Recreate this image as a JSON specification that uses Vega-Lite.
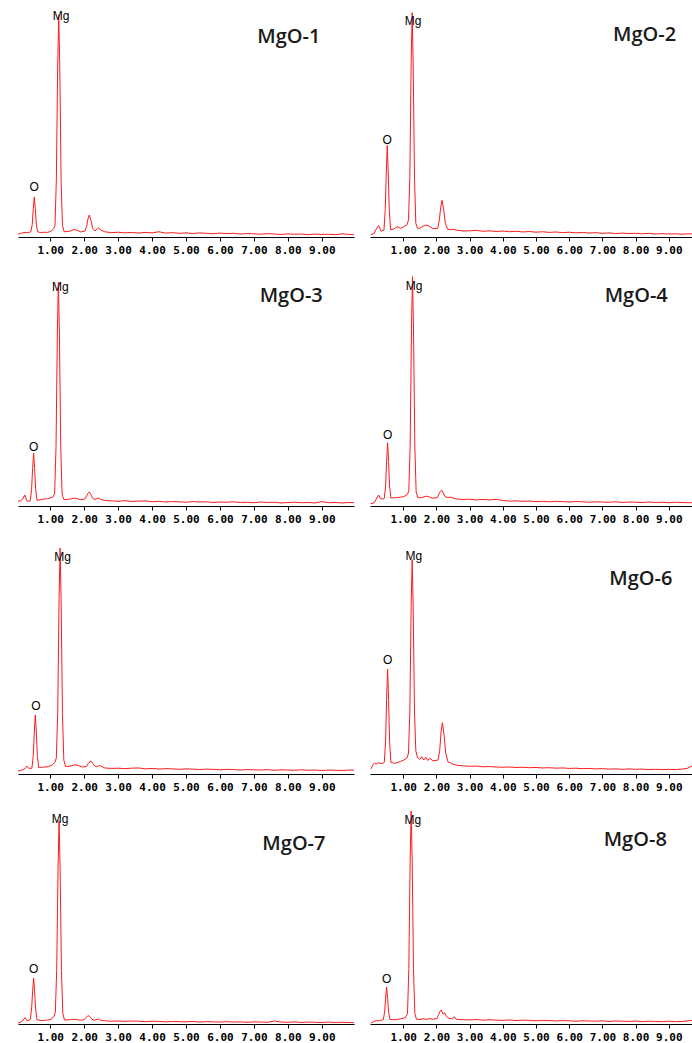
{
"$schema":"https://vega.github.io/schema/vega-lite/v6.json",
"background":"white",
"padding":{"left":16,"top":8,"right":0,"bottom":0},
"config":{"view":{"stroke":null}},
"spacing":17,
"datasets":{
"spec":[
{"p":1,"x":0.05,"y":1.2},{"p":1,"x":0.12,"y":1.6},{"p":1,"x":0.19,"y":1.8},{"p":1,"x":0.26,"y":2.0},{"p":1,"x":0.33,"y":1.9},{"p":1,"x":0.39,"y":2.1},
{"p":1,"x":0.43,"y":2.3},{"p":1,"x":0.47,"y":5.5},{"p":1,"x":0.50,"y":12.5},{"p":1,"x":0.53,"y":17.5},{"p":1,"x":0.56,"y":12.5},{"p":1,"x":0.59,"y":5.5},{"p":1,"x":0.63,"y":2.3},
{"p":1,"x":0.72,"y":1.9},{"p":1,"x":0.82,"y":2.1},{"p":1,"x":0.92,"y":2.0},{"p":1,"x":1.02,"y":2.5},
{"p":1,"x":1.10,"y":3.6},{"p":1,"x":1.14,"y":5.0},{"p":1,"x":1.18,"y":25},{"p":1,"x":1.22,"y":75},{"p":1,"x":1.25,"y":97},{"p":1,"x":1.28,"y":75},{"p":1,"x":1.32,"y":25},{"p":1,"x":1.36,"y":5},{"p":1,"x":1.41,"y":2.3},
{"p":1,"x":1.5,"y":2.4},{"p":1,"x":1.6,"y":2.6},{"p":1,"x":1.7,"y":3.3},{"p":1,"x":1.8,"y":2.9},{"p":1,"x":1.9,"y":2.2},
{"p":1,"x":2.02,"y":2.6},{"p":1,"x":2.07,"y":4.5},{"p":1,"x":2.11,"y":7.8},{"p":1,"x":2.15,"y":9.6},{"p":1,"x":2.20,"y":7.2},{"p":1,"x":2.25,"y":3.8},{"p":1,"x":2.32,"y":2.6},{"p":1,"x":2.42,"y":4.0},{"p":1,"x":2.5,"y":3.0},
{"p":1,"x":2.6,"y":2.3},{"p":1,"x":2.8,"y":1.9},{"p":1,"x":3.0,"y":2.1},{"p":1,"x":3.2,"y":1.8},{"p":1,"x":3.4,"y":2.0},{"p":1,"x":3.6,"y":1.7},{"p":1,"x":3.8,"y":2.0},{"p":1,"x":4.0,"y":1.8},{"p":1,"x":4.2,"y":2.3},{"p":1,"x":4.4,"y":1.7},{"p":1,"x":4.6,"y":1.9},{"p":1,"x":4.8,"y":1.6},{"p":1,"x":5.0,"y":1.8},{"p":1,"x":5.2,"y":1.5},{"p":1,"x":5.4,"y":1.8},{"p":1,"x":5.6,"y":1.6},{"p":1,"x":5.8,"y":1.4},{"p":1,"x":6.0,"y":1.7},{"p":1,"x":6.2,"y":1.5},{"p":1,"x":6.4,"y":1.6},{"p":1,"x":6.6,"y":1.3},{"p":1,"x":6.8,"y":1.5},{"p":1,"x":7.0,"y":1.4},{"p":1,"x":7.2,"y":1.2},{"p":1,"x":7.4,"y":1.5},{"p":1,"x":7.6,"y":1.3},{"p":1,"x":7.8,"y":1.1},{"p":1,"x":8.0,"y":1.4},{"p":1,"x":8.2,"y":1.2},{"p":1,"x":8.4,"y":1.3},{"p":1,"x":8.6,"y":1.0},{"p":1,"x":8.8,"y":1.3},{"p":1,"x":9.0,"y":1.1},{"p":1,"x":9.2,"y":1.2},{"p":1,"x":9.4,"y":1.0},{"p":1,"x":9.6,"y":1.4},{"p":1,"x":9.8,"y":1.1},{"p":1,"x":9.95,"y":1.0},

{"p":2,"x":0.02,"y":1.0},{"p":2,"x":0.12,"y":1.5},{"p":2,"x":0.19,"y":3.5},{"p":2,"x":0.26,"y":5.0},{"p":2,"x":0.33,"y":2.6},{"p":2,"x":0.39,"y":2.8},
{"p":2,"x":0.42,"y":3.0},{"p":2,"x":0.46,"y":12},{"p":2,"x":0.49,"y":28},{"p":2,"x":0.52,"y":40},{"p":2,"x":0.55,"y":28},{"p":2,"x":0.58,"y":12},{"p":2,"x":0.62,"y":3.2},
{"p":2,"x":0.72,"y":3.5},{"p":2,"x":0.82,"y":4.5},{"p":2,"x":0.92,"y":3.8},{"p":2,"x":1.02,"y":4.5},
{"p":2,"x":1.12,"y":5.5},{"p":2,"x":1.16,"y":7.5},{"p":2,"x":1.20,"y":26},{"p":2,"x":1.24,"y":76},{"p":2,"x":1.27,"y":98},{"p":2,"x":1.30,"y":76},{"p":2,"x":1.34,"y":26},{"p":2,"x":1.38,"y":6},{"p":2,"x":1.43,"y":3.8},
{"p":2,"x":1.5,"y":3.8},{"p":2,"x":1.6,"y":4.8},{"p":2,"x":1.7,"y":5.2},{"p":2,"x":1.8,"y":4.6},{"p":2,"x":1.9,"y":3.6},
{"p":2,"x":2.04,"y":3.8},{"p":2,"x":2.09,"y":7.5},{"p":2,"x":2.13,"y":13},{"p":2,"x":2.17,"y":16},{"p":2,"x":2.22,"y":12},{"p":2,"x":2.27,"y":6},{"p":2,"x":2.34,"y":3.4},{"p":2,"x":2.42,"y":3.2},{"p":2,"x":2.5,"y":3.4},
{"p":2,"x":2.6,"y":3.0},{"p":2,"x":2.8,"y":2.6},{"p":2,"x":3.0,"y":2.7},{"p":2,"x":3.2,"y":2.9},{"p":2,"x":3.4,"y":2.5},{"p":2,"x":3.6,"y":2.7},{"p":2,"x":3.8,"y":2.4},{"p":2,"x":4.0,"y":2.6},{"p":2,"x":4.2,"y":2.3},{"p":2,"x":4.4,"y":2.5},{"p":2,"x":4.6,"y":2.2},{"p":2,"x":4.8,"y":2.4},{"p":2,"x":5.0,"y":2.1},{"p":2,"x":5.2,"y":2.3},{"p":2,"x":5.4,"y":2.0},{"p":2,"x":5.6,"y":2.2},{"p":2,"x":5.8,"y":1.9},{"p":2,"x":6.0,"y":2.1},{"p":2,"x":6.2,"y":1.8},{"p":2,"x":6.4,"y":2.0},{"p":2,"x":6.6,"y":1.7},{"p":2,"x":6.8,"y":1.9},{"p":2,"x":7.0,"y":1.6},{"p":2,"x":7.2,"y":1.8},{"p":2,"x":7.4,"y":1.5},{"p":2,"x":7.6,"y":1.7},{"p":2,"x":7.8,"y":1.5},{"p":2,"x":8.0,"y":1.6},{"p":2,"x":8.2,"y":1.4},{"p":2,"x":8.4,"y":1.6},{"p":2,"x":8.6,"y":1.3},{"p":2,"x":8.8,"y":1.5},{"p":2,"x":9.0,"y":1.3},{"p":2,"x":9.2,"y":1.4},{"p":2,"x":9.4,"y":1.2},{"p":2,"x":9.6,"y":1.4},{"p":2,"x":9.85,"y":1.3},

{"p":3,"x":0.05,"y":2.0},{"p":3,"x":0.12,"y":2.2},{"p":3,"x":0.19,"y":3.0},{"p":3,"x":0.25,"y":4.7},{"p":3,"x":0.31,"y":2.2},{"p":3,"x":0.37,"y":2.0},
{"p":3,"x":0.41,"y":2.2},{"p":3,"x":0.45,"y":7},{"p":3,"x":0.48,"y":16},{"p":3,"x":0.51,"y":22.6},{"p":3,"x":0.54,"y":16},{"p":3,"x":0.57,"y":7},{"p":3,"x":0.61,"y":2.4},
{"p":3,"x":0.72,"y":2.8},{"p":3,"x":0.82,"y":3.0},{"p":3,"x":0.92,"y":3.1},{"p":3,"x":1.02,"y":3.5},
{"p":3,"x":1.09,"y":4.0},{"p":3,"x":1.13,"y":5.5},{"p":3,"x":1.17,"y":25},{"p":3,"x":1.21,"y":74},{"p":3,"x":1.24,"y":95.7},{"p":3,"x":1.27,"y":74},{"p":3,"x":1.31,"y":25},{"p":3,"x":1.35,"y":5},{"p":3,"x":1.40,"y":2.8},
{"p":3,"x":1.5,"y":2.8},{"p":3,"x":1.6,"y":3.0},{"p":3,"x":1.7,"y":3.4},{"p":3,"x":1.8,"y":3.1},{"p":3,"x":1.9,"y":2.7},
{"p":3,"x":2.02,"y":3.0},{"p":3,"x":2.07,"y":4.3},{"p":3,"x":2.11,"y":5.4},{"p":3,"x":2.15,"y":6.0},{"p":3,"x":2.20,"y":4.8},{"p":3,"x":2.25,"y":3.3},{"p":3,"x":2.32,"y":2.8},{"p":3,"x":2.42,"y":3.4},{"p":3,"x":2.5,"y":2.7},
{"p":3,"x":2.6,"y":2.4},{"p":3,"x":2.8,"y":2.2},{"p":3,"x":3.0,"y":2.0},{"p":3,"x":3.2,"y":2.3},{"p":3,"x":3.4,"y":1.9},{"p":3,"x":3.6,"y":2.1},{"p":3,"x":3.8,"y":2.2},{"p":3,"x":4.0,"y":1.8},{"p":3,"x":4.2,"y":2.0},{"p":3,"x":4.4,"y":1.7},{"p":3,"x":4.6,"y":1.9},{"p":3,"x":4.8,"y":1.8},{"p":3,"x":5.0,"y":1.6},{"p":3,"x":5.2,"y":1.9},{"p":3,"x":5.4,"y":1.7},{"p":3,"x":5.6,"y":1.8},{"p":3,"x":5.8,"y":1.5},{"p":3,"x":6.0,"y":1.7},{"p":3,"x":6.2,"y":1.6},{"p":3,"x":6.4,"y":1.8},{"p":3,"x":6.6,"y":1.5},{"p":3,"x":6.8,"y":1.6},{"p":3,"x":7.0,"y":1.4},{"p":3,"x":7.2,"y":1.7},{"p":3,"x":7.4,"y":1.5},{"p":3,"x":7.6,"y":1.6},{"p":3,"x":7.8,"y":1.3},{"p":3,"x":8.0,"y":1.5},{"p":3,"x":8.2,"y":1.6},{"p":3,"x":8.4,"y":1.4},{"p":3,"x":8.6,"y":1.5},{"p":3,"x":8.8,"y":1.3},{"p":3,"x":9.0,"y":1.9},{"p":3,"x":9.2,"y":1.4},{"p":3,"x":9.4,"y":1.5},{"p":3,"x":9.6,"y":1.3},{"p":3,"x":9.8,"y":1.5},{"p":3,"x":9.95,"y":1.4},

{"p":4,"x":0.02,"y":1.0},{"p":4,"x":0.12,"y":1.3},{"p":4,"x":0.19,"y":3.0},{"p":4,"x":0.26,"y":4.7},{"p":4,"x":0.32,"y":3.2},{"p":4,"x":0.38,"y":3.0},
{"p":4,"x":0.43,"y":3.2},{"p":4,"x":0.47,"y":8.5},{"p":4,"x":0.50,"y":19},{"p":4,"x":0.53,"y":27},{"p":4,"x":0.56,"y":19},{"p":4,"x":0.59,"y":8.5},{"p":4,"x":0.63,"y":3.4},
{"p":4,"x":0.72,"y":3.5},{"p":4,"x":0.82,"y":3.6},{"p":4,"x":0.92,"y":3.8},{"p":4,"x":1.02,"y":4.0},
{"p":4,"x":1.13,"y":5.0},{"p":4,"x":1.17,"y":6.5},{"p":4,"x":1.21,"y":26},{"p":4,"x":1.25,"y":76},{"p":4,"x":1.28,"y":98},{"p":4,"x":1.31,"y":76},{"p":4,"x":1.35,"y":26},{"p":4,"x":1.39,"y":6},{"p":4,"x":1.44,"y":3.6},
{"p":4,"x":1.5,"y":3.5},{"p":4,"x":1.6,"y":3.8},{"p":4,"x":1.7,"y":4.2},{"p":4,"x":1.8,"y":3.8},{"p":4,"x":1.9,"y":3.3},
{"p":4,"x":2.03,"y":3.6},{"p":4,"x":2.08,"y":5.2},{"p":4,"x":2.12,"y":6.3},{"p":4,"x":2.16,"y":6.8},{"p":4,"x":2.21,"y":5.5},{"p":4,"x":2.26,"y":4.0},{"p":4,"x":2.33,"y":3.6},{"p":4,"x":2.42,"y":3.8},{"p":4,"x":2.5,"y":3.4},
{"p":4,"x":2.6,"y":3.0},{"p":4,"x":2.8,"y":2.8},{"p":4,"x":3.0,"y":2.9},{"p":4,"x":3.2,"y":2.6},{"p":4,"x":3.4,"y":2.8},{"p":4,"x":3.6,"y":2.6},{"p":4,"x":3.8,"y":2.9},{"p":4,"x":4.0,"y":2.3},{"p":4,"x":4.2,"y":2.1},{"p":4,"x":4.4,"y":2.2},{"p":4,"x":4.6,"y":2.0},{"p":4,"x":4.8,"y":2.1},{"p":4,"x":5.0,"y":1.9},{"p":4,"x":5.2,"y":2.0},{"p":4,"x":5.4,"y":1.8},{"p":4,"x":5.6,"y":2.0},{"p":4,"x":5.8,"y":1.9},{"p":4,"x":6.0,"y":1.7},{"p":4,"x":6.2,"y":1.9},{"p":4,"x":6.4,"y":1.8},{"p":4,"x":6.6,"y":1.6},{"p":4,"x":6.8,"y":1.8},{"p":4,"x":7.0,"y":1.7},{"p":4,"x":7.2,"y":1.6},{"p":4,"x":7.4,"y":1.8},{"p":4,"x":7.6,"y":1.5},{"p":4,"x":7.8,"y":1.7},{"p":4,"x":8.0,"y":1.6},{"p":4,"x":8.2,"y":1.5},{"p":4,"x":8.4,"y":1.7},{"p":4,"x":8.6,"y":1.5},{"p":4,"x":8.8,"y":1.6},{"p":4,"x":9.0,"y":1.4},{"p":4,"x":9.2,"y":1.6},{"p":4,"x":9.4,"y":1.5},{"p":4,"x":9.6,"y":1.4},{"p":4,"x":9.85,"y":1.5},

{"p":5,"x":0.05,"y":1.3},{"p":5,"x":0.12,"y":1.5},{"p":5,"x":0.19,"y":1.8},{"p":5,"x":0.25,"y":2.2},{"p":5,"x":0.31,"y":3.4},{"p":5,"x":0.37,"y":2.4},
{"p":5,"x":0.46,"y":2.5},{"p":5,"x":0.50,"y":8},{"p":5,"x":0.53,"y":18},{"p":5,"x":0.56,"y":25.3},{"p":5,"x":0.59,"y":18},{"p":5,"x":0.62,"y":8},{"p":5,"x":0.66,"y":2.8},
{"p":5,"x":0.75,"y":2.9},{"p":5,"x":0.85,"y":3.0},{"p":5,"x":0.95,"y":3.2},{"p":5,"x":1.05,"y":3.8},
{"p":5,"x":1.14,"y":5.0},{"p":5,"x":1.18,"y":7},{"p":5,"x":1.22,"y":26},{"p":5,"x":1.26,"y":75},{"p":5,"x":1.29,"y":97},{"p":5,"x":1.32,"y":75},{"p":5,"x":1.36,"y":26},{"p":5,"x":1.40,"y":6},{"p":5,"x":1.45,"y":3.2},
{"p":5,"x":1.55,"y":3.3},{"p":5,"x":1.65,"y":3.6},{"p":5,"x":1.75,"y":4.0},{"p":5,"x":1.85,"y":3.5},{"p":5,"x":1.95,"y":3.0},
{"p":5,"x":2.07,"y":3.2},{"p":5,"x":2.12,"y":4.5},{"p":5,"x":2.16,"y":5.2},{"p":5,"x":2.2,"y":5.6},{"p":5,"x":2.25,"y":4.6},{"p":5,"x":2.30,"y":3.6},{"p":5,"x":2.37,"y":3.1},{"p":5,"x":2.45,"y":3.7},{"p":5,"x":2.55,"y":3.0},
{"p":5,"x":2.6,"y":2.6},{"p":5,"x":2.8,"y":2.4},{"p":5,"x":3.0,"y":2.5},{"p":5,"x":3.2,"y":2.3},{"p":5,"x":3.4,"y":2.5},{"p":5,"x":3.6,"y":2.6},{"p":5,"x":3.8,"y":2.2},{"p":5,"x":4.0,"y":2.4},{"p":5,"x":4.2,"y":2.1},{"p":5,"x":4.4,"y":2.3},{"p":5,"x":4.6,"y":2.2},{"p":5,"x":4.8,"y":2.0},{"p":5,"x":5.0,"y":2.2},{"p":5,"x":5.2,"y":2.1},{"p":5,"x":5.4,"y":1.9},{"p":5,"x":5.6,"y":2.1},{"p":5,"x":5.8,"y":2.0},{"p":5,"x":6.0,"y":1.8},{"p":5,"x":6.2,"y":2.0},{"p":5,"x":6.4,"y":1.9},{"p":5,"x":6.6,"y":1.7},{"p":5,"x":6.8,"y":1.9},{"p":5,"x":7.0,"y":1.8},{"p":5,"x":7.2,"y":1.7},{"p":5,"x":7.4,"y":1.9},{"p":5,"x":7.6,"y":1.6},{"p":5,"x":7.8,"y":1.8},{"p":5,"x":8.0,"y":1.7},{"p":5,"x":8.2,"y":1.6},{"p":5,"x":8.4,"y":1.8},{"p":5,"x":8.6,"y":1.6},{"p":5,"x":8.8,"y":1.7},{"p":5,"x":9.0,"y":1.5},{"p":5,"x":9.2,"y":1.7},{"p":5,"x":9.4,"y":1.6},{"p":5,"x":9.6,"y":1.5},{"p":5,"x":9.8,"y":1.7},{"p":5,"x":9.95,"y":1.6},

{"p":6,"x":0.03,"y":2.2},{"p":6,"x":0.09,"y":4.0},{"p":6,"x":0.14,"y":4.6},{"p":6,"x":0.19,"y":4.3},{"p":6,"x":0.26,"y":4.8},{"p":6,"x":0.33,"y":4.5},{"p":6,"x":0.39,"y":4.6},
{"p":6,"x":0.43,"y":5.0},{"p":6,"x":0.47,"y":14},{"p":6,"x":0.50,"y":32},{"p":6,"x":0.53,"y":45},{"p":6,"x":0.56,"y":32},{"p":6,"x":0.59,"y":14},{"p":6,"x":0.63,"y":5.0},
{"p":6,"x":0.72,"y":4.6},{"p":6,"x":0.82,"y":4.9},{"p":6,"x":0.92,"y":5.4},{"p":6,"x":1.02,"y":6.0},
{"p":6,"x":1.12,"y":7.0},{"p":6,"x":1.16,"y":9},{"p":6,"x":1.20,"y":27},{"p":6,"x":1.24,"y":72},{"p":6,"x":1.27,"y":92},{"p":6,"x":1.30,"y":72},{"p":6,"x":1.34,"y":27},{"p":6,"x":1.38,"y":10},{"p":6,"x":1.43,"y":7.0},
{"p":6,"x":1.5,"y":6.3},{"p":6,"x":1.56,"y":7.4},{"p":6,"x":1.62,"y":6.0},{"p":6,"x":1.68,"y":7.2},{"p":6,"x":1.74,"y":5.8},{"p":6,"x":1.8,"y":6.8},{"p":6,"x":1.9,"y":5.6},
{"p":6,"x":2.05,"y":6.0},{"p":6,"x":2.10,"y":10},{"p":6,"x":2.14,"y":18},{"p":6,"x":2.18,"y":22},{"p":6,"x":2.23,"y":17},{"p":6,"x":2.28,"y":9},{"p":6,"x":2.35,"y":5.2},{"p":6,"x":2.42,"y":4.8},{"p":6,"x":2.5,"y":4.2},
{"p":6,"x":2.6,"y":3.8},{"p":6,"x":2.8,"y":3.5},{"p":6,"x":3.0,"y":3.3},{"p":6,"x":3.2,"y":3.4},{"p":6,"x":3.4,"y":3.1},{"p":6,"x":3.6,"y":3.2},{"p":6,"x":3.8,"y":3.0},{"p":6,"x":4.0,"y":2.9},{"p":6,"x":4.2,"y":3.0},{"p":6,"x":4.4,"y":2.8},{"p":6,"x":4.6,"y":2.9},{"p":6,"x":4.8,"y":2.7},{"p":6,"x":5.0,"y":2.8},{"p":6,"x":5.2,"y":2.6},{"p":6,"x":5.4,"y":2.7},{"p":6,"x":5.6,"y":2.5},{"p":6,"x":5.8,"y":2.6},{"p":6,"x":6.0,"y":2.4},{"p":6,"x":6.2,"y":2.5},{"p":6,"x":6.4,"y":2.3},{"p":6,"x":6.6,"y":2.4},{"p":6,"x":6.8,"y":2.2},{"p":6,"x":7.0,"y":2.3},{"p":6,"x":7.2,"y":2.1},{"p":6,"x":7.4,"y":2.2},{"p":6,"x":7.6,"y":2.0},{"p":6,"x":7.8,"y":2.2},{"p":6,"x":8.0,"y":2.0},{"p":6,"x":8.2,"y":2.1},{"p":6,"x":8.4,"y":1.9},{"p":6,"x":8.6,"y":2.0},{"p":6,"x":8.8,"y":1.9},{"p":6,"x":9.0,"y":2.0},{"p":6,"x":9.2,"y":1.9},{"p":6,"x":9.4,"y":2.1},{"p":6,"x":9.55,"y":2.4},{"p":6,"x":9.72,"y":3.6},{"p":6,"x":9.85,"y":3.2},

{"p":7,"x":0.05,"y":0.5},{"p":7,"x":0.12,"y":0.8},{"p":7,"x":0.19,"y":1.5},{"p":7,"x":0.26,"y":3.0},{"p":7,"x":0.32,"y":1.5},{"p":7,"x":0.38,"y":1.8},
{"p":7,"x":0.41,"y":2.0},{"p":7,"x":0.45,"y":7},{"p":7,"x":0.48,"y":15},{"p":7,"x":0.51,"y":21.5},{"p":7,"x":0.54,"y":15},{"p":7,"x":0.57,"y":7},{"p":7,"x":0.61,"y":2.0},
{"p":7,"x":0.72,"y":1.6},{"p":7,"x":0.82,"y":1.7},{"p":7,"x":0.92,"y":1.8},{"p":7,"x":1.02,"y":2.2},
{"p":7,"x":1.11,"y":3.5},{"p":7,"x":1.15,"y":5.5},{"p":7,"x":1.19,"y":25},{"p":7,"x":1.23,"y":73},{"p":7,"x":1.26,"y":95},{"p":7,"x":1.29,"y":73},{"p":7,"x":1.33,"y":25},{"p":7,"x":1.37,"y":5},{"p":7,"x":1.42,"y":1.9},
{"p":7,"x":1.5,"y":1.9},{"p":7,"x":1.6,"y":2.1},{"p":7,"x":1.7,"y":2.2},{"p":7,"x":1.8,"y":2.0},{"p":7,"x":1.9,"y":1.8},
{"p":7,"x":2.0,"y":2.0},{"p":7,"x":2.05,"y":2.9},{"p":7,"x":2.09,"y":3.6},{"p":7,"x":2.13,"y":3.9},{"p":7,"x":2.18,"y":3.2},{"p":7,"x":2.23,"y":2.2},{"p":7,"x":2.30,"y":1.8},{"p":7,"x":2.42,"y":2.3},{"p":7,"x":2.5,"y":1.7},
{"p":7,"x":2.6,"y":1.5},{"p":7,"x":2.8,"y":1.3},{"p":7,"x":3.0,"y":1.4},{"p":7,"x":3.2,"y":1.2},{"p":7,"x":3.4,"y":1.4},{"p":7,"x":3.6,"y":1.3},{"p":7,"x":3.8,"y":1.1},{"p":7,"x":4.0,"y":1.3},{"p":7,"x":4.2,"y":1.2},{"p":7,"x":4.4,"y":1.0},{"p":7,"x":4.6,"y":1.2},{"p":7,"x":4.8,"y":1.1},{"p":7,"x":5.0,"y":1.0},{"p":7,"x":5.2,"y":1.2},{"p":7,"x":5.4,"y":0.9},{"p":7,"x":5.6,"y":1.1},{"p":7,"x":5.8,"y":1.0},{"p":7,"x":6.0,"y":0.9},{"p":7,"x":6.2,"y":1.1},{"p":7,"x":6.4,"y":0.9},{"p":7,"x":6.6,"y":1.0},{"p":7,"x":6.8,"y":0.8},{"p":7,"x":7.0,"y":1.0},{"p":7,"x":7.2,"y":0.9},{"p":7,"x":7.4,"y":0.8},{"p":7,"x":7.6,"y":1.4},{"p":7,"x":7.8,"y":0.9},{"p":7,"x":8.0,"y":0.8},{"p":7,"x":8.2,"y":1.0},{"p":7,"x":8.4,"y":0.7},{"p":7,"x":8.6,"y":0.9},{"p":7,"x":8.8,"y":0.8},{"p":7,"x":9.0,"y":0.7},{"p":7,"x":9.2,"y":0.9},{"p":7,"x":9.4,"y":0.7},{"p":7,"x":9.6,"y":0.8},{"p":7,"x":9.8,"y":0.7},{"p":7,"x":9.95,"y":0.6},

{"p":8,"x":0.02,"y":0.4},{"p":8,"x":0.12,"y":1.2},{"p":8,"x":0.19,"y":1.6},{"p":8,"x":0.26,"y":1.5},{"p":8,"x":0.32,"y":1.7},{"p":8,"x":0.37,"y":1.8},
{"p":8,"x":0.40,"y":2.0},{"p":8,"x":0.44,"y":5.5},{"p":8,"x":0.47,"y":12},{"p":8,"x":0.50,"y":17.3},{"p":8,"x":0.53,"y":12},{"p":8,"x":0.56,"y":5.5},{"p":8,"x":0.60,"y":2.2},
{"p":8,"x":0.72,"y":2.0},{"p":8,"x":0.82,"y":2.1},{"p":8,"x":0.92,"y":2.4},{"p":8,"x":1.02,"y":2.8},
{"p":8,"x":1.09,"y":3.5},{"p":8,"x":1.13,"y":5.0},{"p":8,"x":1.17,"y":26},{"p":8,"x":1.21,"y":77},{"p":8,"x":1.24,"y":99.5},{"p":8,"x":1.27,"y":77},{"p":8,"x":1.31,"y":26},{"p":8,"x":1.35,"y":5},{"p":8,"x":1.40,"y":2.2},
{"p":8,"x":1.5,"y":2.1},{"p":8,"x":1.6,"y":2.4},{"p":8,"x":1.7,"y":2.2},{"p":8,"x":1.8,"y":2.5},{"p":8,"x":1.9,"y":2.2},
{"p":8,"x":2.02,"y":2.6},{"p":8,"x":2.07,"y":4.5},{"p":8,"x":2.11,"y":6.0},{"p":8,"x":2.15,"y":6.5},{"p":8,"x":2.2,"y":4.6},{"p":8,"x":2.25,"y":5.2},{"p":8,"x":2.3,"y":3.5},{"p":8,"x":2.38,"y":2.6},{"p":8,"x":2.48,"y":2.4},{"p":8,"x":2.54,"y":3.4},
{"p":8,"x":2.6,"y":2.2},{"p":8,"x":2.8,"y":2.0},{"p":8,"x":3.0,"y":1.9},{"p":8,"x":3.2,"y":2.1},{"p":8,"x":3.4,"y":1.8},{"p":8,"x":3.6,"y":2.0},{"p":8,"x":3.8,"y":1.8},{"p":8,"x":4.0,"y":1.7},{"p":8,"x":4.2,"y":1.9},{"p":8,"x":4.4,"y":1.6},{"p":8,"x":4.6,"y":1.8},{"p":8,"x":4.8,"y":1.7},{"p":8,"x":5.0,"y":1.5},{"p":8,"x":5.2,"y":1.7},{"p":8,"x":5.4,"y":1.6},{"p":8,"x":5.6,"y":1.4},{"p":8,"x":5.8,"y":1.6},{"p":8,"x":6.0,"y":1.5},{"p":8,"x":6.2,"y":1.3},{"p":8,"x":6.4,"y":1.5},{"p":8,"x":6.6,"y":1.4},{"p":8,"x":6.8,"y":1.3},{"p":8,"x":7.0,"y":1.5},{"p":8,"x":7.2,"y":1.2},{"p":8,"x":7.4,"y":1.4},{"p":8,"x":7.6,"y":1.3},{"p":8,"x":7.8,"y":1.2},{"p":8,"x":8.0,"y":1.4},{"p":8,"x":8.2,"y":1.1},{"p":8,"x":8.4,"y":1.3},{"p":8,"x":8.6,"y":1.2},{"p":8,"x":8.8,"y":1.1},{"p":8,"x":9.0,"y":1.3},{"p":8,"x":9.2,"y":1.1},{"p":8,"x":9.4,"y":1.2},{"p":8,"x":9.55,"y":1.4},{"p":8,"x":9.7,"y":1.7},{"p":8,"x":9.85,"y":1.8}
],
"labels":[
{"p":1,"x":1.32,"y":96.5,"t":"Mg"},{"p":1,"x":0.53,"y":21.8,"t":"O"},
{"p":2,"x":1.30,"y":94.5,"t":"Mg"},{"p":2,"x":0.52,"y":42.5,"t":"O"},
{"p":3,"x":1.30,"y":93.7,"t":"Mg"},{"p":3,"x":0.51,"y":25.3,"t":"O"},
{"p":4,"x":1.33,"y":94.1,"t":"Mg"},{"p":4,"x":0.53,"y":30.3,"t":"O"},
{"p":5,"x":1.36,"y":93,"t":"Mg"},{"p":5,"x":0.58,"y":29,"t":"O"},
{"p":6,"x":1.32,"y":93.4,"t":"Mg"},{"p":6,"x":0.53,"y":48.8,"t":"O"},
{"p":7,"x":1.29,"y":95.8,"t":"Mg"},{"p":7,"x":0.51,"y":25.7,"t":"O"},
{"p":8,"x":1.29,"y":95.5,"t":"Mg"},{"p":8,"x":0.50,"y":21.2,"t":"O"}
],
"titles":[
{"p":1,"x":8.03,"y":87.3,"t":"MgO-1"},{"p":2,"x":8.27,"y":88.2,"t":"MgO-2"},
{"p":3,"x":8.10,"y":89.7,"t":"MgO-3"},{"p":4,"x":8.02,"y":89.7,"t":"MgO-4"},
{"p":6,"x":8.16,"y":83.7,"t":"MgO-6"},{"p":7,"x":8.18,"y":84.1,"t":"MgO-7"},
{"p":8,"x":7.99,"y":86,"t":"MgO-8"}
]
},
"vconcat":[
{"spacing":12,"hconcat":[
{"width":336,"height":229,"layer":[
{"data":{"name":"spec"},"transform":[{"filter":"datum.p==1"}],"mark":{"type":"line","color":"#ff1a1a","strokeWidth":1},"encoding":{"x":{"field":"x","type":"quantitative","scale":{"domain":[0.05,9.95],"nice":false,"zero":false},"title":null,"axis":{"values":[1,2,3,4,5,6,7,8,9],"format":".2f","labelFont":"DejaVu Sans Mono","labelFontWeight":"bold","labelFontSize":11,"labelColor":"#000","domainColor":"#000","tickColor":"#000","tickSize":4,"labelPadding":3,"labelDx":7,"grid":false,"labelFlush":false,"labelOverlap":false}},"y":{"field":"y","type":"quantitative","scale":{"domain":[0,100]},"axis":null}}},
{"data":{"name":"labels"},"transform":[{"filter":"datum.p==1"}],"mark":{"type":"text","font":"Liberation Sans","fontSize":12,"color":"#000"},"encoding":{"x":{"field":"x","type":"quantitative"},"y":{"field":"y","type":"quantitative"},"text":{"field":"t"}}},
{"data":{"name":"titles"},"transform":[{"filter":"datum.p==1"}],"mark":{"type":"text","font":"Open Sans","fontSize":20,"fontWeight":600,"color":"#1a1a1a"},"encoding":{"x":{"field":"x","type":"quantitative"},"y":{"field":"y","type":"quantitative"},"text":{"field":"t"}}}
]},
{"width":327,"height":229,"layer":[
{"data":{"name":"spec"},"transform":[{"filter":"datum.p==2"}],"mark":{"type":"line","color":"#ff1a1a","strokeWidth":1},"encoding":{"x":{"field":"x","type":"quantitative","scale":{"domain":[0,9.85],"nice":false,"zero":false},"title":null,"axis":{"values":[1,2,3,4,5,6,7,8,9],"format":".2f","labelFont":"DejaVu Sans Mono","labelFontWeight":"bold","labelFontSize":11,"labelColor":"#000","domainColor":"#000","tickColor":"#000","tickSize":4,"labelPadding":3,"labelDx":7,"grid":false,"labelFlush":false,"labelOverlap":false}},"y":{"field":"y","type":"quantitative","scale":{"domain":[0,100]},"axis":null}}},
{"data":{"name":"labels"},"transform":[{"filter":"datum.p==2"}],"mark":{"type":"text","font":"Liberation Sans","fontSize":12,"color":"#000"},"encoding":{"x":{"field":"x","type":"quantitative"},"y":{"field":"y","type":"quantitative"},"text":{"field":"t"}}},
{"data":{"name":"titles"},"transform":[{"filter":"datum.p==2"}],"mark":{"type":"text","font":"Open Sans","fontSize":20,"fontWeight":600,"color":"#1a1a1a"},"encoding":{"x":{"field":"x","type":"quantitative"},"y":{"field":"y","type":"quantitative"},"text":{"field":"t"}}}
]}
]},
{"spacing":12,"hconcat":[
{"width":336,"height":234,"layer":[
{"data":{"name":"spec"},"transform":[{"filter":"datum.p==3"}],"mark":{"type":"line","color":"#ff1a1a","strokeWidth":1},"encoding":{"x":{"field":"x","type":"quantitative","scale":{"domain":[0.05,9.95],"nice":false,"zero":false},"title":null,"axis":{"values":[1,2,3,4,5,6,7,8,9],"format":".2f","labelFont":"DejaVu Sans Mono","labelFontWeight":"bold","labelFontSize":11,"labelColor":"#000","domainColor":"#000","tickColor":"#000","tickSize":4,"labelPadding":3,"labelDx":7,"grid":false,"labelFlush":false,"labelOverlap":false}},"y":{"field":"y","type":"quantitative","scale":{"domain":[0,100]},"axis":null}}},
{"data":{"name":"labels"},"transform":[{"filter":"datum.p==3"}],"mark":{"type":"text","font":"Liberation Sans","fontSize":12,"color":"#000"},"encoding":{"x":{"field":"x","type":"quantitative"},"y":{"field":"y","type":"quantitative"},"text":{"field":"t"}}},
{"data":{"name":"titles"},"transform":[{"filter":"datum.p==3"}],"mark":{"type":"text","font":"Open Sans","fontSize":20,"fontWeight":600,"color":"#1a1a1a"},"encoding":{"x":{"field":"x","type":"quantitative"},"y":{"field":"y","type":"quantitative"},"text":{"field":"t"}}}
]},
{"width":327,"height":234,"layer":[
{"data":{"name":"spec"},"transform":[{"filter":"datum.p==4"}],"mark":{"type":"line","color":"#ff1a1a","strokeWidth":1},"encoding":{"x":{"field":"x","type":"quantitative","scale":{"domain":[0,9.85],"nice":false,"zero":false},"title":null,"axis":{"values":[1,2,3,4,5,6,7,8,9],"format":".2f","labelFont":"DejaVu Sans Mono","labelFontWeight":"bold","labelFontSize":11,"labelColor":"#000","domainColor":"#000","tickColor":"#000","tickSize":4,"labelPadding":3,"labelDx":7,"grid":false,"labelFlush":false,"labelOverlap":false}},"y":{"field":"y","type":"quantitative","scale":{"domain":[0,100]},"axis":null}}},
{"data":{"name":"labels"},"transform":[{"filter":"datum.p==4"}],"mark":{"type":"text","font":"Liberation Sans","fontSize":12,"color":"#000"},"encoding":{"x":{"field":"x","type":"quantitative"},"y":{"field":"y","type":"quantitative"},"text":{"field":"t"}}},
{"data":{"name":"titles"},"transform":[{"filter":"datum.p==4"}],"mark":{"type":"text","font":"Open Sans","fontSize":20,"fontWeight":600,"color":"#1a1a1a"},"encoding":{"x":{"field":"x","type":"quantitative"},"y":{"field":"y","type":"quantitative"},"text":{"field":"t"}}}
]}
]},
{"spacing":12,"hconcat":[
{"width":336,"height":233,"layer":[
{"data":{"name":"spec"},"transform":[{"filter":"datum.p==5"}],"mark":{"type":"line","color":"#ff1a1a","strokeWidth":1},"encoding":{"x":{"field":"x","type":"quantitative","scale":{"domain":[0.05,9.95],"nice":false,"zero":false},"title":null,"axis":{"values":[1,2,3,4,5,6,7,8,9],"format":".2f","labelFont":"DejaVu Sans Mono","labelFontWeight":"bold","labelFontSize":11,"labelColor":"#000","domainColor":"#000","tickColor":"#000","tickSize":4,"labelPadding":3,"labelDx":7,"grid":false,"labelFlush":false,"labelOverlap":false}},"y":{"field":"y","type":"quantitative","scale":{"domain":[0,100]},"axis":null}}},
{"data":{"name":"labels"},"transform":[{"filter":"datum.p==5"}],"mark":{"type":"text","font":"Liberation Sans","fontSize":12,"color":"#000"},"encoding":{"x":{"field":"x","type":"quantitative"},"y":{"field":"y","type":"quantitative"},"text":{"field":"t"}}}
]},
{"width":327,"height":233,"layer":[
{"data":{"name":"spec"},"transform":[{"filter":"datum.p==6"}],"mark":{"type":"line","color":"#ff1a1a","strokeWidth":1},"encoding":{"x":{"field":"x","type":"quantitative","scale":{"domain":[0,9.85],"nice":false,"zero":false},"title":null,"axis":{"values":[1,2,3,4,5,6,7,8,9],"format":".2f","labelFont":"DejaVu Sans Mono","labelFontWeight":"bold","labelFontSize":11,"labelColor":"#000","domainColor":"#000","tickColor":"#000","tickSize":4,"labelPadding":3,"labelDx":7,"grid":false,"labelFlush":false,"labelOverlap":false}},"y":{"field":"y","type":"quantitative","scale":{"domain":[0,100]},"axis":null}}},
{"data":{"name":"labels"},"transform":[{"filter":"datum.p==6"}],"mark":{"type":"text","font":"Liberation Sans","fontSize":12,"color":"#000"},"encoding":{"x":{"field":"x","type":"quantitative"},"y":{"field":"y","type":"quantitative"},"text":{"field":"t"}}},
{"data":{"name":"titles"},"transform":[{"filter":"datum.p==6"}],"mark":{"type":"text","font":"Open Sans","fontSize":20,"fontWeight":600,"color":"#1a1a1a"},"encoding":{"x":{"field":"x","type":"quantitative"},"y":{"field":"y","type":"quantitative"},"text":{"field":"t"}}}
]}
]},
{"spacing":12,"hconcat":[
{"width":336,"height":214,"layer":[
{"data":{"name":"spec"},"transform":[{"filter":"datum.p==7"}],"mark":{"type":"line","color":"#ff1a1a","strokeWidth":1},"encoding":{"x":{"field":"x","type":"quantitative","scale":{"domain":[0.05,9.95],"nice":false,"zero":false},"title":null,"axis":{"values":[1,2,3,4,5,6,7,8,9],"format":".2f","labelFont":"DejaVu Sans Mono","labelFontWeight":"bold","labelFontSize":11,"labelColor":"#000","domainColor":"#000","tickColor":"#000","tickSize":4,"labelPadding":3,"labelDx":7,"grid":false,"labelFlush":false,"labelOverlap":false}},"y":{"field":"y","type":"quantitative","scale":{"domain":[0,100]},"axis":null}}},
{"data":{"name":"labels"},"transform":[{"filter":"datum.p==7"}],"mark":{"type":"text","font":"Liberation Sans","fontSize":12,"color":"#000"},"encoding":{"x":{"field":"x","type":"quantitative"},"y":{"field":"y","type":"quantitative"},"text":{"field":"t"}}},
{"data":{"name":"titles"},"transform":[{"filter":"datum.p==7"}],"mark":{"type":"text","font":"Open Sans","fontSize":20,"fontWeight":600,"color":"#1a1a1a"},"encoding":{"x":{"field":"x","type":"quantitative"},"y":{"field":"y","type":"quantitative"},"text":{"field":"t"}}}
]},
{"width":327,"height":214,"layer":[
{"data":{"name":"spec"},"transform":[{"filter":"datum.p==8"}],"mark":{"type":"line","color":"#ff1a1a","strokeWidth":1},"encoding":{"x":{"field":"x","type":"quantitative","scale":{"domain":[0,9.85],"nice":false,"zero":false},"title":null,"axis":{"values":[1,2,3,4,5,6,7,8,9],"format":".2f","labelFont":"DejaVu Sans Mono","labelFontWeight":"bold","labelFontSize":11,"labelColor":"#000","domainColor":"#000","tickColor":"#000","tickSize":4,"labelPadding":3,"labelDx":7,"grid":false,"labelFlush":false,"labelOverlap":false}},"y":{"field":"y","type":"quantitative","scale":{"domain":[0,100]},"axis":null}}},
{"data":{"name":"labels"},"transform":[{"filter":"datum.p==8"}],"mark":{"type":"text","font":"Liberation Sans","fontSize":12,"color":"#000"},"encoding":{"x":{"field":"x","type":"quantitative"},"y":{"field":"y","type":"quantitative"},"text":{"field":"t"}}},
{"data":{"name":"titles"},"transform":[{"filter":"datum.p==8"}],"mark":{"type":"text","font":"Open Sans","fontSize":20,"fontWeight":600,"color":"#1a1a1a"},"encoding":{"x":{"field":"x","type":"quantitative"},"y":{"field":"y","type":"quantitative"},"text":{"field":"t"}}}
]}
]}
]
}
